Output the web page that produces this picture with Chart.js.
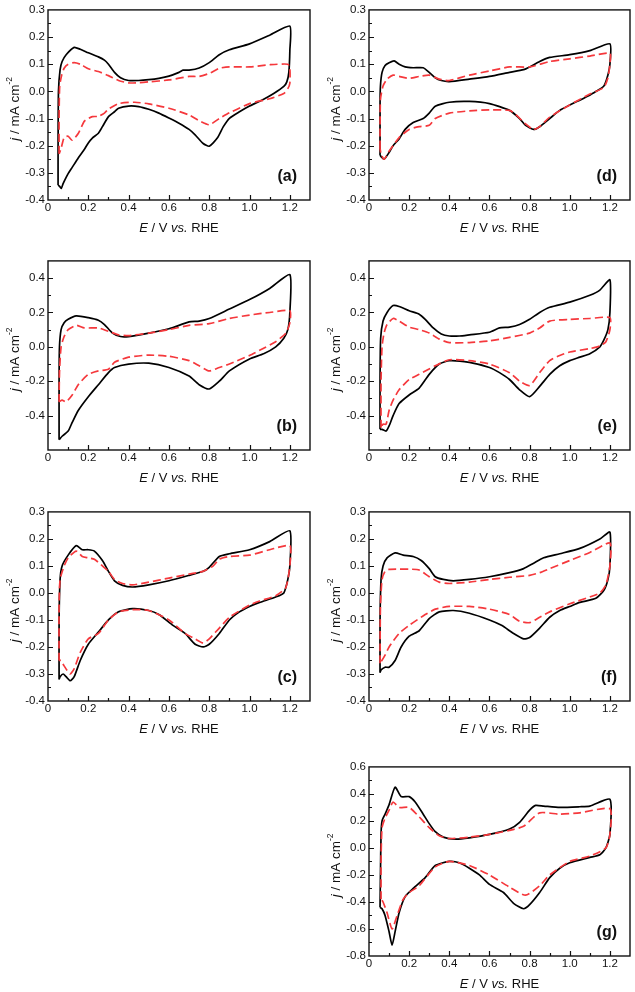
<!DOCTYPE html>
<html>
<head>
<meta charset="utf-8">
<script src="https://cdn.jsdelivr.net/npm/chart.js@4"></script>
<style>
  body { margin: 0; background: #fff; width: 635px; height: 992px; position: relative; overflow: hidden; }
  canvas { position: absolute; }
</style>
</head>
<body>
<canvas id="pa" width="314" height="240" style="left:0;top:0"></canvas>
<canvas id="pd" width="313" height="240" style="left:321px;top:0"></canvas>
<canvas id="pb" width="314" height="239" style="left:0;top:251px"></canvas>
<canvas id="pe" width="313" height="239" style="left:321px;top:251px"></canvas>
<canvas id="pc" width="314" height="239" style="left:0;top:502px"></canvas>
<canvas id="pf" width="313" height="239" style="left:321px;top:502px"></canvas>
<canvas id="pg" width="313" height="239" style="left:321px;top:757px"></canvas>
<script>
// CV curves, [E (V vs RHE), j (mA cm-2)], anodic sweep then cathodic sweep
const aBlack = [[0.05,-0.345],[0.05,-0.2],[0.052,0.0],[0.06,0.08],[0.07,0.11],[0.09,0.135],[0.13,0.162],[0.16,0.155],[0.2,0.142],[0.25,0.127],[0.28,0.115],[0.3,0.1],[0.33,0.07],[0.36,0.05],[0.4,0.04],[0.45,0.04],[0.5,0.043],[0.55,0.048],[0.6,0.056],[0.65,0.07],[0.67,0.078],[0.7,0.078],[0.75,0.086],[0.8,0.106],[0.85,0.135],[0.9,0.153],[1.0,0.175],[1.1,0.207],[1.2,0.24],[1.2,0.15],[1.195,0.07],[1.185,0.035],[1.17,0.018],[1.12,-0.008],[1.07,-0.029],[1.0,-0.054],[0.95,-0.075],[0.9,-0.099],[0.87,-0.13],[0.84,-0.172],[0.8,-0.202],[0.77,-0.192],[0.73,-0.16],[0.7,-0.14],[0.65,-0.117],[0.6,-0.098],[0.55,-0.08],[0.5,-0.066],[0.45,-0.056],[0.4,-0.054],[0.35,-0.062],[0.33,-0.075],[0.3,-0.093],[0.27,-0.13],[0.25,-0.154],[0.22,-0.172],[0.2,-0.19],[0.18,-0.214],[0.15,-0.245],[0.12,-0.28],[0.1,-0.303],[0.09,-0.317],[0.075,-0.34],[0.066,-0.357],[0.058,-0.35],[0.05,-0.345]];
const aRed = [[0.055,-0.23],[0.055,-0.1],[0.058,0.02],[0.068,0.06],[0.08,0.085],[0.1,0.1],[0.13,0.106],[0.16,0.1],[0.2,0.083],[0.25,0.073],[0.3,0.058],[0.35,0.04],[0.4,0.031],[0.45,0.032],[0.5,0.035],[0.6,0.042],[0.7,0.055],[0.75,0.055],[0.8,0.066],[0.85,0.085],[0.9,0.09],[1.0,0.09],[1.1,0.098],[1.19,0.1],[1.2,0.085],[1.2,0.03],[1.19,0.01],[1.17,-0.008],[1.1,-0.027],[1.0,-0.045],[0.9,-0.079],[0.85,-0.1],[0.8,-0.123],[0.75,-0.108],[0.7,-0.087],[0.6,-0.062],[0.5,-0.046],[0.43,-0.04],[0.35,-0.045],[0.3,-0.065],[0.28,-0.08],[0.25,-0.092],[0.22,-0.093],[0.2,-0.1],[0.18,-0.11],[0.15,-0.155],[0.12,-0.18],[0.1,-0.165],[0.08,-0.17],[0.065,-0.21],[0.055,-0.23]];

const dBlack = [[0.055,-0.235],[0.055,-0.05],[0.057,0.02],[0.065,0.07],[0.08,0.095],[0.1,0.105],[0.125,0.112],[0.15,0.1],[0.18,0.09],[0.22,0.087],[0.27,0.087],[0.3,0.07],[0.33,0.05],[0.36,0.04],[0.4,0.036],[0.5,0.045],[0.6,0.055],[0.7,0.07],[0.77,0.08],[0.8,0.09],[0.85,0.11],[0.9,0.125],[1.0,0.135],[1.1,0.15],[1.2,0.175],[1.2,0.1],[1.19,0.06],[1.17,0.02],[1.12,-0.005],[1.07,-0.025],[1.0,-0.05],[0.95,-0.07],[0.9,-0.1],[0.85,-0.13],[0.82,-0.14],[0.78,-0.125],[0.75,-0.1],[0.7,-0.07],[0.6,-0.045],[0.5,-0.037],[0.4,-0.04],[0.33,-0.055],[0.3,-0.08],[0.27,-0.1],[0.22,-0.115],[0.18,-0.14],[0.15,-0.175],[0.12,-0.2],[0.1,-0.225],[0.075,-0.25],[0.06,-0.24],[0.055,-0.235]];
const dRed = [[0.055,-0.21],[0.057,-0.03],[0.07,0.02],[0.09,0.045],[0.12,0.06],[0.15,0.055],[0.2,0.048],[0.25,0.055],[0.3,0.06],[0.35,0.045],[0.4,0.04],[0.5,0.06],[0.6,0.075],[0.7,0.09],[0.8,0.09],[0.9,0.11],[1.0,0.12],[1.1,0.13],[1.2,0.14],[1.2,0.1],[1.19,0.05],[1.17,0.015],[1.1,-0.01],[1.0,-0.05],[0.9,-0.095],[0.85,-0.13],[0.82,-0.14],[0.78,-0.12],[0.73,-0.085],[0.7,-0.07],[0.6,-0.068],[0.5,-0.072],[0.4,-0.08],[0.33,-0.1],[0.3,-0.125],[0.25,-0.13],[0.2,-0.14],[0.15,-0.17],[0.12,-0.2],[0.1,-0.22],[0.075,-0.25],[0.06,-0.23],[0.055,-0.21]];

const bBlack = [[0.055,-0.54],[0.055,-0.2],[0.057,0.0],[0.065,0.1],[0.08,0.14],[0.1,0.16],[0.14,0.18],[0.2,0.17],[0.25,0.155],[0.28,0.13],[0.32,0.08],[0.36,0.06],[0.4,0.06],[0.5,0.08],[0.6,0.105],[0.7,0.145],[0.75,0.15],[0.8,0.165],[0.9,0.22],[1.0,0.275],[1.1,0.34],[1.2,0.42],[1.2,0.2],[1.19,0.1],[1.17,0.05],[1.13,0.0],[1.07,-0.04],[1.0,-0.07],[0.9,-0.14],[0.85,-0.2],[0.8,-0.245],[0.75,-0.22],[0.7,-0.17],[0.6,-0.12],[0.5,-0.095],[0.4,-0.1],[0.33,-0.12],[0.3,-0.15],[0.25,-0.22],[0.2,-0.29],[0.15,-0.37],[0.12,-0.44],[0.1,-0.49],[0.07,-0.52],[0.055,-0.54]];
const bRed = [[0.055,-0.32],[0.057,-0.15],[0.065,0.0],[0.08,0.06],[0.1,0.1],[0.14,0.125],[0.18,0.11],[0.25,0.11],[0.3,0.09],[0.35,0.07],[0.4,0.065],[0.5,0.08],[0.6,0.1],[0.7,0.125],[0.8,0.135],[0.9,0.165],[1.0,0.185],[1.1,0.2],[1.2,0.21],[1.2,0.14],[1.18,0.08],[1.13,0.03],[1.05,-0.02],[1.0,-0.05],[0.9,-0.1],[0.85,-0.12],[0.8,-0.14],[0.75,-0.11],[0.7,-0.08],[0.6,-0.055],[0.5,-0.048],[0.4,-0.06],[0.33,-0.09],[0.3,-0.13],[0.25,-0.14],[0.2,-0.16],[0.15,-0.22],[0.12,-0.28],[0.09,-0.32],[0.07,-0.31],[0.055,-0.32]];

const eBlack = [[0.055,-0.48],[0.055,-0.2],[0.058,0.05],[0.07,0.15],[0.09,0.2],[0.12,0.24],[0.15,0.235],[0.2,0.21],[0.25,0.19],[0.28,0.16],[0.32,0.11],[0.36,0.075],[0.4,0.063],[0.45,0.063],[0.5,0.07],[0.6,0.085],[0.65,0.11],[0.7,0.115],[0.75,0.13],[0.8,0.16],[0.85,0.2],[0.9,0.23],[1.0,0.26],[1.1,0.3],[1.15,0.33],[1.2,0.39],[1.2,0.2],[1.19,0.1],[1.17,0.04],[1.15,0.0],[1.1,-0.04],[1.05,-0.06],[1.0,-0.08],[0.95,-0.11],[0.9,-0.16],[0.85,-0.23],[0.8,-0.29],[0.75,-0.25],[0.7,-0.19],[0.65,-0.15],[0.6,-0.12],[0.5,-0.09],[0.4,-0.08],[0.35,-0.1],[0.3,-0.16],[0.25,-0.24],[0.2,-0.28],[0.15,-0.33],[0.12,-0.4],[0.1,-0.46],[0.085,-0.49],[0.065,-0.48],[0.055,-0.48]];
const eRed = [[0.06,-0.47],[0.06,-0.2],[0.065,0.0],[0.075,0.08],[0.09,0.13],[0.12,0.165],[0.15,0.15],[0.2,0.115],[0.25,0.1],[0.3,0.08],[0.35,0.045],[0.4,0.025],[0.5,0.025],[0.6,0.035],[0.7,0.055],[0.8,0.08],[0.85,0.11],[0.9,0.15],[1.0,0.16],[1.1,0.165],[1.2,0.17],[1.2,0.1],[1.18,0.03],[1.15,0.005],[1.1,-0.01],[1.0,-0.03],[0.95,-0.05],[0.9,-0.08],[0.85,-0.15],[0.8,-0.225],[0.75,-0.2],[0.7,-0.15],[0.6,-0.1],[0.5,-0.08],[0.4,-0.075],[0.33,-0.11],[0.25,-0.16],[0.2,-0.19],[0.15,-0.25],[0.12,-0.31],[0.1,-0.37],[0.085,-0.45],[0.07,-0.45],[0.06,-0.47]];

const cBlack = [[0.055,-0.32],[0.055,-0.1],[0.06,0.05],[0.07,0.1],[0.1,0.14],[0.14,0.175],[0.17,0.16],[0.2,0.16],[0.23,0.155],[0.27,0.12],[0.3,0.08],[0.33,0.045],[0.37,0.028],[0.42,0.022],[0.5,0.03],[0.6,0.045],[0.7,0.065],[0.77,0.08],[0.8,0.095],[0.85,0.135],[0.9,0.145],[1.0,0.16],[1.1,0.19],[1.2,0.23],[1.2,0.1],[1.19,0.05],[1.17,0.0],[1.13,-0.015],[1.05,-0.035],[1.0,-0.05],[0.95,-0.07],[0.9,-0.1],[0.85,-0.15],[0.8,-0.19],[0.77,-0.2],[0.73,-0.19],[0.68,-0.15],[0.62,-0.12],[0.55,-0.08],[0.5,-0.065],[0.42,-0.058],[0.35,-0.07],[0.3,-0.1],[0.25,-0.145],[0.2,-0.19],[0.16,-0.25],[0.13,-0.31],[0.11,-0.325],[0.09,-0.31],[0.075,-0.3],[0.06,-0.31],[0.055,-0.32]];
const cRed = [[0.055,-0.25],[0.055,-0.05],[0.06,0.05],[0.08,0.1],[0.1,0.13],[0.14,0.155],[0.17,0.135],[0.2,0.13],[0.23,0.125],[0.27,0.1],[0.3,0.08],[0.33,0.05],[0.37,0.035],[0.42,0.03],[0.5,0.04],[0.6,0.055],[0.7,0.07],[0.77,0.08],[0.82,0.1],[0.85,0.125],[0.9,0.135],[1.0,0.14],[1.1,0.16],[1.2,0.175],[1.2,0.1],[1.18,0.02],[1.13,-0.01],[1.05,-0.03],[1.0,-0.045],[0.9,-0.09],[0.85,-0.13],[0.8,-0.17],[0.77,-0.185],[0.73,-0.17],[0.68,-0.15],[0.6,-0.1],[0.5,-0.065],[0.42,-0.062],[0.35,-0.07],[0.3,-0.1],[0.25,-0.15],[0.2,-0.17],[0.16,-0.22],[0.13,-0.28],[0.11,-0.3],[0.08,-0.27],[0.065,-0.25],[0.055,-0.25]];

const fBlack = [[0.055,-0.295],[0.055,-0.1],[0.06,0.05],[0.07,0.1],[0.09,0.13],[0.13,0.148],[0.17,0.14],[0.22,0.135],[0.26,0.12],[0.3,0.09],[0.33,0.06],[0.37,0.05],[0.42,0.045],[0.5,0.05],[0.6,0.06],[0.7,0.075],[0.77,0.09],[0.82,0.11],[0.87,0.13],[0.95,0.145],[1.05,0.165],[1.15,0.2],[1.2,0.225],[1.2,0.1],[1.19,0.05],[1.17,0.01],[1.13,-0.02],[1.05,-0.035],[1.0,-0.05],[0.95,-0.065],[0.9,-0.09],[0.85,-0.13],[0.8,-0.165],[0.77,-0.17],[0.72,-0.15],[0.66,-0.12],[0.6,-0.1],[0.5,-0.075],[0.42,-0.065],[0.35,-0.07],[0.3,-0.095],[0.25,-0.14],[0.2,-0.16],[0.16,-0.2],[0.13,-0.25],[0.1,-0.275],[0.08,-0.275],[0.06,-0.285],[0.055,-0.295]];
const fRed = [[0.055,-0.26],[0.057,-0.05],[0.065,0.05],[0.08,0.08],[0.1,0.087],[0.15,0.088],[0.2,0.088],[0.25,0.085],[0.3,0.06],[0.35,0.04],[0.4,0.035],[0.5,0.04],[0.6,0.05],[0.7,0.058],[0.8,0.065],[0.85,0.075],[0.9,0.09],[1.0,0.12],[1.1,0.15],[1.2,0.185],[1.2,0.1],[1.18,0.03],[1.15,0.0],[1.1,-0.015],[1.0,-0.04],[0.9,-0.07],[0.85,-0.09],[0.8,-0.11],[0.75,-0.105],[0.7,-0.08],[0.6,-0.06],[0.5,-0.05],[0.4,-0.05],[0.33,-0.06],[0.28,-0.08],[0.2,-0.12],[0.15,-0.15],[0.1,-0.2],[0.08,-0.23],[0.06,-0.255],[0.055,-0.26]];

const gBlack = [[0.055,-0.44],[0.057,-0.2],[0.06,0.1],[0.065,0.2],[0.08,0.25],[0.1,0.32],[0.13,0.45],[0.16,0.38],[0.2,0.38],[0.23,0.34],[0.27,0.25],[0.3,0.18],[0.33,0.12],[0.37,0.08],[0.43,0.065],[0.5,0.075],[0.6,0.1],[0.7,0.14],[0.75,0.19],[0.8,0.28],[0.83,0.315],[0.87,0.31],[0.95,0.3],[1.05,0.305],[1.1,0.31],[1.2,0.36],[1.2,0.1],[1.18,0.0],[1.15,-0.05],[1.1,-0.07],[1.0,-0.11],[0.95,-0.15],[0.9,-0.22],[0.85,-0.33],[0.8,-0.42],[0.77,-0.45],[0.72,-0.41],[0.67,-0.33],[0.6,-0.27],[0.55,-0.2],[0.5,-0.15],[0.45,-0.11],[0.4,-0.1],[0.33,-0.13],[0.28,-0.22],[0.22,-0.3],[0.18,-0.36],[0.15,-0.48],[0.13,-0.62],[0.115,-0.72],[0.1,-0.62],[0.08,-0.5],[0.065,-0.45],[0.055,-0.44]];
const gRed = [[0.06,-0.38],[0.06,-0.1],[0.065,0.15],[0.08,0.22],[0.1,0.28],[0.12,0.34],[0.15,0.3],[0.2,0.3],[0.25,0.23],[0.3,0.15],[0.35,0.09],[0.4,0.07],[0.5,0.08],[0.6,0.1],[0.7,0.13],[0.77,0.16],[0.85,0.26],[0.95,0.25],[1.05,0.26],[1.2,0.29],[1.2,0.1],[1.18,0.0],[1.1,-0.06],[1.0,-0.1],[0.9,-0.2],[0.85,-0.28],[0.78,-0.35],[0.7,-0.29],[0.6,-0.2],[0.5,-0.13],[0.4,-0.1],[0.33,-0.14],[0.25,-0.28],[0.2,-0.33],[0.17,-0.38],[0.14,-0.5],[0.115,-0.6],[0.09,-0.48],[0.07,-0.4],[0.06,-0.38]];

// y-axis ranges per panel: [min, max, step]
const yRangeA = [-0.4, 0.3, 0.1];
const yRangeB = [-0.6, 0.5, 0.2];
const yRangeC = [-0.4, 0.3, 0.1];
const yRangeD = [-0.4, 0.3, 0.1];
const yRangeE = [-0.6, 0.5, 0.2];
const yRangeF = [-0.4, 0.3, 0.1];
const yRangeG = [-0.8, 0.6, 0.2];

const FONT = '"Liberation Sans", Arial, sans-serif';
const RED = '#f5383c';

function drawRuns(ctx, runs, x, y) {
    let total = 0;
    runs.forEach(r => { ctx.font = r.font; r.w = ctx.measureText(r.t).width; total += r.w; });
    let cx = x - total / 2;
    runs.forEach(r => {
        ctx.font = r.font;
        ctx.fillText(r.t, cx, y + (r.dy || 0));
        cx += r.w;
    });
}

// frame, inward ticks (major + minor), axis titles and panel letter
const framePlugin = {
    id: 'panelFrame',
    afterDatasetsDraw(chart) {
        const { ctx, chartArea: a, scales } = chart;
        const xs = scales.x, ys = scales.y;
        ctx.save();
        ctx.strokeStyle = '#111';
        ctx.lineWidth = 1.4;
        ctx.strokeRect(a.left, a.top, a.right - a.left, a.bottom - a.top);

        ctx.lineWidth = 1.2;
        ctx.beginPath();
        const xStep = xs.options.ticks.stepSize / 2;
        const nx = Math.round((xs.max - xs.min) / xStep);
        for (let i = 1; i < nx; i++) {
            const px = Math.round(xs.getPixelForValue(xs.min + i * xStep)) + 0.5;
            const len = i % 2 === 0 ? 5 : 3;
            ctx.moveTo(px, a.bottom);
            ctx.lineTo(px, a.bottom - len);
        }
        const yStep = ys.options.ticks.stepSize / 2;
        const ny = Math.round((ys.max - ys.min) / yStep);
        for (let i = 1; i < ny; i++) {
            const py = Math.round(ys.getPixelForValue(ys.min + i * yStep)) + 0.5;
            const len = i % 2 === 0 ? 5 : 3;
            ctx.moveTo(a.left, py);
            ctx.lineTo(a.left + len, py);
        }
        ctx.stroke();

        ctx.fillStyle = '#111';
        ctx.textBaseline = 'middle';
        ctx.textAlign = 'left';
        drawRuns(ctx, [
            { t: 'E', font: 'italic 13px ' + FONT },
            { t: ' / V ', font: '13px ' + FONT },
            { t: 'vs.', font: 'italic 13px ' + FONT },
            { t: ' RHE', font: '13px ' + FONT }
        ], (a.left + a.right) / 2, a.bottom + 28);

        ctx.save();
        ctx.translate(a.left - 33, (a.top + a.bottom) / 2 + 4);
        ctx.rotate(-Math.PI / 2);
        drawRuns(ctx, [
            { t: 'j', font: 'italic 13.5px ' + FONT },
            { t: ' / mA cm', font: '13.5px ' + FONT },
            { t: '-2', font: '8.5px ' + FONT, dy: -5 }
        ], 0, 0);
        ctx.restore();

        ctx.font = 'bold 16px ' + FONT;
        ctx.textAlign = 'right';
        ctx.textBaseline = 'alphabetic';
        ctx.fillText(chart.options.plugins.panelFrame.label, a.right - 13, a.bottom - 19);
        ctx.restore();
    }
};

const toXY = arr => arr.map(p => ({ x: p[0], y: p[1] }));

function makePanel(id, label, yRange, black, red) {
    const [yMin, yMax, yStep] = yRange;
    return new Chart(document.getElementById(id), {
        type: 'line',
        data: {
            datasets: [
                {
                    data: toXY(red),
                    borderColor: RED,
                    borderWidth: 1.7,
                    borderDash: [8, 4],
                    pointRadius: 0,
                    tension: 0.2,
                    fill: false
                },
                {
                    data: toXY(black),
                    borderColor: '#000',
                    borderWidth: 1.7,
                    pointRadius: 0,
                    tension: 0.2,
                    fill: false
                }
            ]
        },
        options: {
            responsive: false,
            animation: false,
            devicePixelRatio: 1,
            layout: { padding: { top: 6, right: 4, left: 0, bottom: 0 } },
            plugins: {
                legend: { display: false },
                tooltip: { enabled: false },
                panelFrame: { label }
            },
            scales: {
                x: {
                    type: 'linear',
                    min: 0,
                    max: 1.3,
                    grid: { display: false, drawTicks: false },
                    border: { display: false },
                    afterFit: s => { s.height = 40; },
                    ticks: {
                        stepSize: 0.2,
                        includeBounds: false,
                        autoSkip: false,
                        maxRotation: 0,
                        padding: 1,
                        color: '#111',
                        font: { family: FONT, size: 11.5 },
                        callback: v => Math.abs(v) < 1e-9 ? '0' : v.toFixed(1)
                    }
                },
                y: {
                    type: 'linear',
                    min: yMin,
                    max: yMax,
                    grid: { display: false, drawTicks: false },
                    border: { display: false },
                    afterFit: s => { s.width = 48; },
                    ticks: {
                        stepSize: yStep,
                        includeBounds: false,
                        autoSkip: false,
                        padding: 3,
                        color: '#111',
                        font: { family: FONT, size: 11.5 },
                        callback: v => Math.abs(v) < 1e-9 ? '0.0' : v.toFixed(1)
                    }
                }
            }
        },
        plugins: [framePlugin]
    });
}

makePanel('pa', '(a)', yRangeA, aBlack, aRed);
makePanel('pb', '(b)', yRangeB, bBlack, bRed);
makePanel('pc', '(c)', yRangeC, cBlack, cRed);
makePanel('pd', '(d)', yRangeD, dBlack, dRed);
makePanel('pe', '(e)', yRangeE, eBlack, eRed);
makePanel('pf', '(f)', yRangeF, fBlack, fRed);
makePanel('pg', '(g)', yRangeG, gBlack, gRed);
</script>
</body>
</html>
